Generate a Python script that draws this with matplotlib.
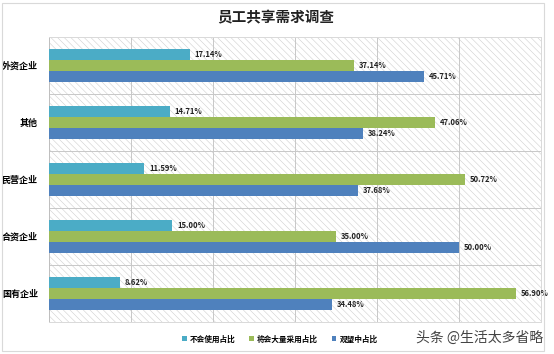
import matplotlib
matplotlib.use("Agg")
import matplotlib.pyplot as plt
from matplotlib.patches import Rectangle

plt.rcParams["font.family"] = ["Noto Sans CJK SC", "DejaVu Sans"]
plt.rcParams["hatch.linewidth"] = 0.4

# bottom to top, as the axis draws them
categories = ["国有企业", "合资企业", "民营企业", "其他", "外资企业"]
series_names = ["不会使用占比", "将会大量采用占比", "观望中占比"]
not_use = [8.62, 15.00, 11.59, 14.71, 17.14]
will_adopt = [56.90, 35.00, 50.72, 47.06, 37.14]
waiting = [34.48, 50.00, 37.68, 38.24, 45.71]
colors = ["#4bacc6", "#9bbb59", "#4f81bd"]

fig = plt.figure(figsize=(5.54, 3.54), dpi=100)
W, H = 554, 354

# outer chart border
fig.patches.append(Rectangle((2 / W, 3 / H), 542 / W, 348 / H, transform=fig.transFigure,
                             fill=False, edgecolor="#d9d9d9", linewidth=0.8))

ax = fig.add_axes([49 / W, (H - 322) / H, (541 - 49) / W, (322 - 37) / H])
ax.set_facecolor("white")
ax.add_patch(Rectangle((0, 0), 1, 1, transform=ax.transAxes, facecolor="none",
                       edgecolor="#cfcfcf", hatch="\\" * 5, linewidth=0, zorder=0))

h = 0.19
ys = range(len(categories))
offsets = [h, 0, -h]
for vals, off, col, name in zip([not_use, will_adopt, waiting], offsets, colors, series_names):
    pos = [y + off for y in ys]
    ax.barh(pos, vals, height=h, color=col, label=name, zorder=3)
    for p, v in zip(pos, vals):
        ax.text(v + 0.6, p, "%.2f%%" % v, va="center", ha="left", fontsize=5.5,
                fontweight="bold", color="#222222", zorder=4)

ax.set_xlim(0, 60)
ax.set_ylim(-0.5, len(categories) - 0.5)
ax.set_xticks(range(0, 61, 10))
ax.set_xticklabels([])
ax.tick_params(axis="x", length=0)
ax.grid(axis="x", color="#c8c8c8", linewidth=0.7, zorder=1)
for b in [0.5, 1.5, 2.5, 3.5]:
    ax.axhline(b, color="#c8c8c8", linewidth=0.7, zorder=1)

ax.set_yticks(list(ys))
ax.set_yticklabels(categories, fontsize=6.5, fontweight="bold")
ax.tick_params(axis="y", length=0, pad=8)
for s in ["top", "right", "bottom"]:
    ax.spines[s].set_color("#d9d9d9")
    ax.spines[s].set_linewidth(0.7)
ax.spines["left"].set_color("#bfbfbf")
ax.spines["left"].set_linewidth(0.7)

fig.text(276 / W, 1 - 17 / H, "员工共享需求调查", ha="center", va="center", fontsize=10.5,
         fontweight="bold", color="#222222")

leg = fig.legend(loc="center", bbox_to_anchor=(280 / W, 1 - 339 / H), ncol=3, frameon=False,
                 fontsize=5.5, handlelength=0.6, handleheight=0.6, handletextpad=0.4,
                 columnspacing=1.8)
for t in leg.get_texts():
    t.set_fontweight("bold")

fig.text(543 / W, 1 - 338 / H, "头条 @生活太多省略", ha="right", va="center", fontsize=10,
         color="#444444")

fig.savefig("out.png", dpi=100)
